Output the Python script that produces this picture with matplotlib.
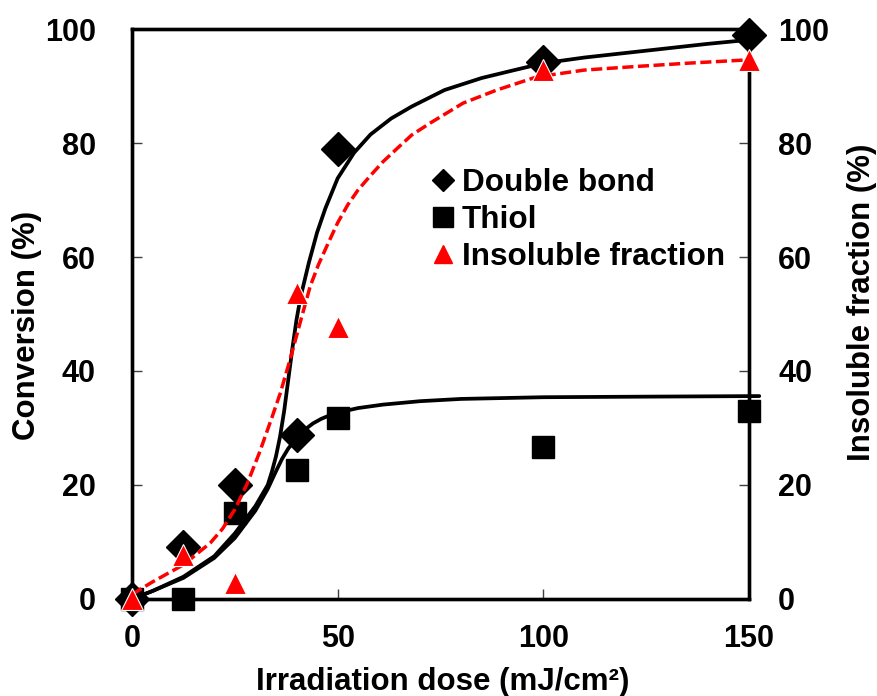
import matplotlib
matplotlib.use('Agg')
import matplotlib.pyplot as plt
from matplotlib.lines import Line2D

plt.rcParams['font.family'] = ['Liberation Sans', 'DejaVu Sans']
plt.rcParams['font.weight'] = 'bold'

# measured points
dose = [0, 12.5, 25, 40, 50, 100, 150]
double_bond = [0, 9.2, 20, 28.8, 78.9, 94.3, 99]
thiol = [0, 0, 15, 22.7, 31.7, 26.7, 32.9]
insoluble = [0, 7.7, 2.8, 53.6, 47.8, 92.8, 94.6]

# fitted curves
db_fit_x = [0, 5, 12.5, 20, 25, 30, 33, 34, 35, 36, 37, 38, 39, 40, 41, 43, 45, 47, 50,
            54, 58, 63, 68, 76, 85, 93, 100, 110, 120, 130, 140, 150]
db_fit_y = [0, 1.4, 3.9, 7.5, 11.5, 16.3, 20, 22.3, 25, 28.5, 33, 38.5, 44, 49, 53, 59,
            64.3, 68.5, 73.8, 78.3, 81.5, 84.3, 86.4, 89.3, 91.4, 92.8, 94, 95, 95.8,
            96.6, 97.4, 98.1]

th_fit_x = [0, 5, 12.5, 20, 25, 30, 33, 35, 36.5, 38, 40, 42, 44, 46, 48, 50, 55, 61,
            70, 80, 100, 125, 152.5]
th_fit_y = [0, 1.4, 3.7, 7.2, 10.7, 15.5, 19.3, 22.4, 24.6, 26.4, 28.2, 29.7, 30.8, 31.6,
            32.2, 32.7, 33.5, 34.1, 34.7, 35.1, 35.4, 35.5, 35.6]

ins_fit_x = [0, 5, 12.5, 19, 22, 25, 28, 31, 34, 36, 38.4, 41, 43.3, 45.3, 47.3, 50, 52.5,
             55, 58, 61, 64.4, 68, 72.5, 80.5, 88.7, 98.4, 110, 122, 135, 150]
ins_fit_y = [0.8, 3, 6, 9.8, 12.3, 15.7, 20.2, 25.7, 31.8, 36, 41.9, 48.8, 54.8, 58.6,
             61.8, 66, 69.2, 71.8, 74.3, 76.7, 79, 81.4, 83.5, 87, 89.3, 91.6, 92.8,
             93.4, 94, 94.6]

labels = ['Double bond', 'Thiol', 'Insoluble fraction']

fig = plt.figure(figsize=(8.77, 6.96), dpi=100)
ax = fig.add_axes([0.1505, 0.1394, 0.7035, 0.8189])
ax2 = ax.twinx()

ax.plot(db_fit_x, db_fit_y, color='black', lw=2.7, zorder=2, clip_on=False,
        solid_joinstyle='round', solid_capstyle='round')
ax.plot(th_fit_x, th_fit_y, color='black', lw=2.7, zorder=2, clip_on=False,
        solid_joinstyle='round', solid_capstyle='round')
ax.plot(dose, double_bond, 'D', color='black', ms=17.5, zorder=4, clip_on=False)
ax.plot(dose, thiol, 's', color='black', ms=16.5, zorder=4, clip_on=False)

ax2.plot(ins_fit_x, ins_fit_y, color='#ff0000', lw=2.5, dashes=(3.2, 1.3), zorder=3,
         clip_on=False, dash_joinstyle='round')
ax2.plot(dose, insoluble, '^', color='#ff0000', ms=16.5, mec='white', mew=0.8,
         zorder=5, clip_on=False)

for a in (ax, ax2):
    a.set_xlim(0, 150)
    a.set_ylim(0, 100)
    a.set_yticks([0, 20, 40, 60, 80, 100])
    for s in a.spines.values():
        s.set_linewidth(2.4)
ax.set_xticks([0, 50, 100, 150])

ax.tick_params(axis='x', direction='in', length=7, width=1, color='#404040', pad=18, labelsize=22)
ax.tick_params(axis='y', direction='in', length=7, width=1, color='#404040', pad=26, labelsize=22)
ax2.tick_params(axis='y', direction='in', length=7, width=1, color='#404040', pad=21, labelsize=22)

ax.set_xlabel('Irradiation dose (mJ/cm²)', fontsize=22.5, fontweight='bold')
ax.set_ylabel('Conversion (%)', fontsize=22.5, fontweight='bold')
ax2.set_ylabel('Insoluble fraction (%)', fontsize=22.5, fontweight='bold')
ax.xaxis.set_label_coords(0.503, -0.119)
ax.yaxis.set_label_coords(-0.146, 0.48)
ax2.yaxis.set_label_coords(1.159, 0.52)

handles = [
    Line2D([], [], ls='none', marker='D', color='black', ms=11.7),
    Line2D([], [], ls='none', marker='s', color='black', ms=13.7),
    Line2D([], [], ls='none', marker='^', color='#ff0000', ms=12.5),
]
ax2.legend(handles, labels, loc='upper left', bbox_to_anchor=(0.487, 0.759),
           bbox_transform=fig.transFigure, frameon=False, fontsize=22.7,
           borderpad=0, borderaxespad=0, handlelength=1.0, handletextpad=0.1,
           labelspacing=0.23)

fig.savefig('out.png', dpi=100)
